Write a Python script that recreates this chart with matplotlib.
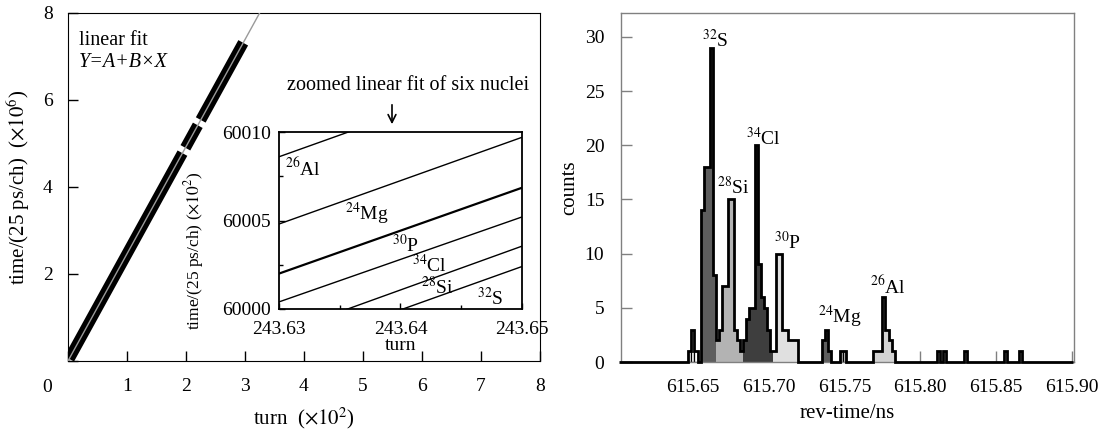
import numpy as np
import matplotlib.pyplot as plt

plt.rcParams['font.family'] = ['Liberation Serif', 'DejaVu Serif']
plt.rcParams['mathtext.fontset'] = 'stix'
plt.rcParams['font.size'] = 14

# --- left panel: linear fit of all turns ---
fit_slope = 2.4628            # (x10^6 ch) per (x10^2 turns)
fit_x_end = 3.4
band_segments = [(0.02, 1.94), (1.99, 2.20), (2.25, 2.97)]

# --- inset: six nuclei, Y at the two ends of the turn range ---
inset_turns = [243.63, 243.65]
inset_nuclei = ['26', '24', '30', '34', '28', '32']
inset_elems = ['Al', 'Mg', 'P', 'Cl', 'Si', 'S']
inset_y_left = [60008.6, 60004.8, 60002.0, 60000.4, 59998.6, 59997.5]
inset_y_right = [60013.5, 60009.7, 60006.85, 60005.2, 60003.55, 60002.4]
inset_lab_x = [243.6320, 243.6372, 243.6404, 243.6424, 243.6430, 243.6474]
inset_lab_y = [60007.97, 60005.37, 60003.62, 60002.49, 60001.24, 60000.62]

# --- right panel: revolution time histogram ---
bin_width = 0.002
grid_start = 615.601
n_bins = 150

counts_low = [1, 3, 1]
counts_32S = [14, 18, 18, 29, 8]
counts_28Si = [2, 3, 7, 7, 15, 15, 3, 2, 1]
counts_34Cl = [2, 4, 5, 5, 20, 9, 6, 5, 3, 1]
counts_30P = [1, 10, 10, 3, 3, 2, 2, 2]
counts_24Mg = [2, 3, 1]
counts_mid = [1, 1]
counts_26Al = [1, 1, 1, 6, 3, 2, 1]
counts_tail = [1, 1, 1, 1, 1]

start_low = 615.647
start_32S = 615.655
start_28Si = 615.665
start_34Cl = 615.683
start_30P = 615.703
start_24Mg = 615.735
start_mid = 615.747
start_26Al = 615.769
tail_starts = [615.811, 615.815, 615.829, 615.855, 615.865]

peak_names = ['32', '28', '34', '30', '24', '26']
peak_elems = ['S', 'Si', 'Cl', 'P', 'Mg', 'Al']
peak_lab_x = [615.6645, 615.6764, 615.6962, 615.7121, 615.7471, 615.7788]
peak_lab_y = [29.7, 16.1, 20.7, 11.1, 4.2, 7.0]

fig = plt.figure(figsize=(11, 4.3), dpi=100)

# ---------------- left panel ----------------
ax = fig.add_axes([0.0618, 0.1605, 0.4291, 0.8093])
ax.plot([0, fit_x_end], [0, fit_slope * fit_x_end], color='#9a9a9a', lw=1.0, zorder=3)
for x0, x1 in band_segments:
    ax.plot([x0, x1], [fit_slope * x0, fit_slope * x1], color='black', lw=8,
            solid_capstyle='butt', zorder=2)
ax.set_xlim(0, 8)
ax.set_ylim(0, 8)
ax.set_xticks(range(9))
ax.set_xticklabels([''] + [str(i) for i in range(1, 9)])
ax.set_yticks(range(0, 9, 2))
ax.set_yticklabels(['', '2', '4', '6', '8'])
ax.tick_params(direction='in', length=7, width=1, labelsize=14)
ax.tick_params(axis='x', pad=12)
ax.tick_params(axis='y', pad=11)
ax.text(-0.0445, -0.075, '0', transform=ax.transAxes, ha='center', va='center', fontsize=14)
ax.set_xlabel(r'turn  ($\times10^2$)', fontsize=15, labelpad=8)
ax.set_ylabel(r'time/(25 ps/ch)  ($\times10^6$)', fontsize=15, labelpad=8)
ax.text(0.023, 0.922, 'linear fit', transform=ax.transAxes, ha='left', va='center', fontsize=14.5)
ax.text(0.023, 0.858, 'Y=A+B×X', transform=ax.transAxes, ha='left', va='center',
        fontsize=14.5, fontstyle='italic')

# ---------------- inset ----------------
axi = fig.add_axes([0.2536, 0.2814, 0.2209, 0.4116])
for i in range(len(inset_nuclei)):
    lw = 1.6 if inset_elems[i] == 'P' else 1.0
    axi.plot(inset_turns, [inset_y_left[i], inset_y_right[i]], color='black', lw=lw)
    axi.text(inset_lab_x[i], inset_lab_y[i], '$^{' + inset_nuclei[i] + '}$' + inset_elems[i],
             ha='center', va='center', fontsize=14)
axi.set_xlim(243.63, 243.65)
axi.set_ylim(60000, 60010)
axi.set_xticks([243.63, 243.64, 243.65])
axi.set_xticklabels(['243.63', '243.64', '243.65'])
axi.set_xticks([243.635, 243.645], minor=True)
axi.set_yticks([60000, 60005, 60010])
axi.set_yticklabels(['60000', '60005', '60010'])
axi.set_yticks([60002.5, 60007.5], minor=True)
axi.tick_params(which='major', direction='in', length=4, width=1, labelsize=14)
axi.tick_params(which='minor', direction='in', length=3, width=1)
axi.tick_params(axis='x', pad=9)
axi.tick_params(axis='y', pad=6)
for s in axi.spines.values():
    s.set_linewidth(1.3)
axi.set_xlabel('turn', fontsize=14, labelpad=-1)
axi.set_ylabel(r'time/(25 ps/ch) ($\times10^2$)', fontsize=12.5)
axi.yaxis.set_label_coords(-0.30, 0.33)

fig.text(408 / 1100, 1 - 86 / 430, 'zoomed linear fit of six nuclei', ha='center', va='center',
         fontsize=14.5)
ax.annotate('', xy=(392 / 1100, 1 - 127 / 430), xytext=(392 / 1100, 1 - 102 / 430),
            xycoords='figure fraction', textcoords='figure fraction',
            arrowprops=dict(arrowstyle='->', color='black', lw=1.2))

# ---------------- right panel ----------------
axr = fig.add_axes([0.5645, 0.1581, 0.4118, 0.8116])
edges = grid_start + bin_width * np.arange(n_bins + 1)
total = np.zeros(n_bins)

groups = [
    (start_low, counts_low, '#ffffff', True),
    (start_32S, counts_32S, '#5e5e5e', False),
    (start_28Si, counts_28Si, '#b3b3b3', False),
    (start_34Cl, counts_34Cl, '#3e3e3e', False),
    (start_30P, counts_30P, '#e0e0e0', False),
    (start_24Mg, counts_24Mg, '#5e5e5e', False),
    (start_mid, counts_mid, '#c4c4c4', True),
    (start_26Al, counts_26Al, '#d3d3d3', False),
]
for s, c in zip(tail_starts, counts_tail):
    groups.append((s, [c], '#ffffff', False))

for start, cnts, fill, edged in groups:
    i0 = int(round((start - grid_start) / bin_width))
    idx = np.arange(i0, i0 + len(cnts))
    total[idx] += cnts
    axr.bar(edges[idx], cnts, width=bin_width, align='edge', color=fill,
            edgecolor='black' if edged else fill, lw=0.9 if edged else 0, zorder=2)

axr.stairs(total, edges, color='black', lw=2.0, baseline=0, zorder=3, clip_on=False)

for i in range(len(peak_names)):
    axr.text(peak_lab_x[i], peak_lab_y[i], '$^{' + peak_names[i] + '}$' + peak_elems[i],
             ha='center', va='center', fontsize=14, zorder=4)

axr.set_xlim(615.6025, 615.9013)
axr.set_ylim(0, 32.2)
axr.set_xticks([615.65, 615.70, 615.75, 615.80, 615.85, 615.90])
axr.set_xticklabels(['615.65', '615.70', '615.75', '615.80', '615.85', '615.90'])
axr.set_yticks([0, 5, 10, 15, 20, 25, 30])
axr.tick_params(direction='in', length=8, width=1, color='#808080', labelsize=14)
axr.tick_params(axis='x', pad=12)
axr.tick_params(axis='y', pad=12)
for s in axr.spines.values():
    s.set_color('#808080')
    s.set_linewidth(1.0)
axr.set_xlabel('rev-time/ns', fontsize=15, labelpad=6)
axr.set_ylabel('counts', fontsize=15, labelpad=4)

fig.savefig('out.png', dpi=100)
